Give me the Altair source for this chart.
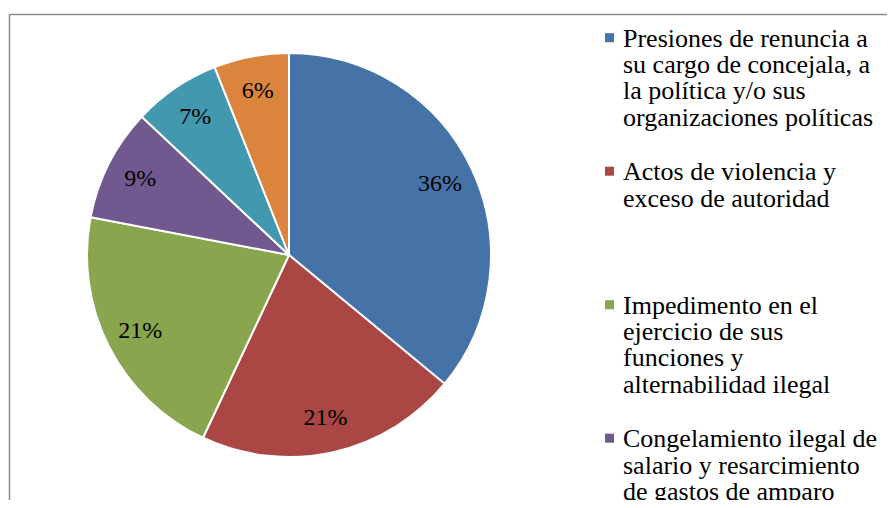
import altair as alt
import pandas as pd

# ---- data ----
slice_values = [36, 21, 21, 9, 7, 6]
slice_labels = ["36%", "21%", "21%", "9%", "7%", "6%"]
slice_colors = ["#4572A7", "#AA4643", "#89A54E", "#71588F", "#4198AF", "#DB843D"]

legend_labels = [
    "Presiones de renuncia a\nsu cargo de concejala, a\nla política y/o sus\norganizaciones políticas",
    "Actos de violencia y\nexceso de autoridad",
    "Impedimento en el\nejercicio de sus\nfunciones y\nalternabilidad ilegal",
    "Congelamiento ilegal de\nsalario y resarcimiento\nde gastos de amparo",
]

FONT = "Liberation Serif"
W, H = 879, 492
CX, CY, R = 281, 247, 202

pie_df = pd.DataFrame({
    "idx": list(range(len(slice_values))),
    "value": slice_values,
    "pct": slice_labels,
})
leg_df = pd.DataFrame({
    "idx": list(range(len(legend_labels))),
    "label": legend_labels,
})

color_scale = alt.Scale(domain=list(range(len(slice_values))), range=slice_colors)

base = alt.Chart(pie_df).encode(
    theta=alt.Theta("value:Q", stack=True),
    order=alt.Order("idx:Q"),
)

shadow = alt.Chart(pd.DataFrame({"v": [1]})).mark_arc(
    radius=R + 1, color="#9a9a9a", opacity=0.35
).encode(theta=alt.Theta("v:Q"), x=alt.value(CX + 2), y=alt.value(CY + 3))

arcs = base.mark_arc(radius=R, stroke="white", strokeWidth=2).encode(
    color=alt.Color("idx:N", scale=color_scale, legend=None),
    x=alt.value(CX), y=alt.value(CY),
)

pct_text = base.mark_text(radius=167, font=FONT, fontSize=24, color="black").encode(
    text="pct:N", x=alt.value(CX), y=alt.value(CY),
)

leg_base = alt.Chart(leg_df).transform_calculate(
    ybase="38.7 + 133.5 * datum.idx",
    ysq="29.7 + 133.5 * datum.idx",
)

leg_sq = leg_base.mark_square(size=81, opacity=1).encode(
    x=alt.value(601.5),
    y=alt.Y("ysq:Q", scale=None),
    color=alt.Color("idx:N", scale=color_scale, legend=None),
)

leg_text = leg_base.mark_text(
    font=FONT, fontSize=26, align="left", baseline="alphabetic",
    lineBreak="\n", lineHeight=26.4, color="black",
).encode(
    x=alt.value(615),
    y=alt.Y("ybase:Q", scale=None),
    text="label:N",
)

border_left = alt.Chart(pd.DataFrame({"a": [0]})).mark_rule(color="#8a8a8a", strokeWidth=1.5).encode(
    x=alt.value(1.5), y=alt.value(6), y2=alt.value(H)
)
border_top = alt.Chart(pd.DataFrame({"a": [0]})).mark_rule(color="#8a8a8a", strokeWidth=1.5).encode(
    x=alt.value(1.5), x2=alt.value(W), y=alt.value(6.5)
)

chart = alt.layer(
    border_left, border_top, shadow, arcs, pct_text, leg_sq, leg_text
).properties(
    width=W, height=H,
    autosize=alt.AutoSizeParams(type="none"),
    padding=0,
).configure_view(stroke="transparent")

chart.save("out.html", embed_options={"renderer": "svg", "actions": False})
